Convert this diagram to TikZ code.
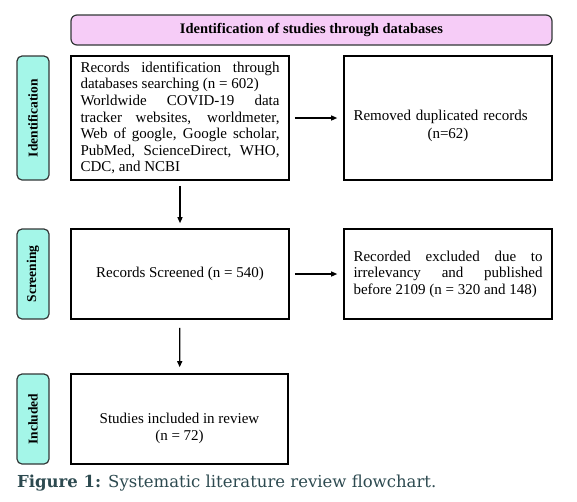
\documentclass[tikz,border=0pt]{standalone}
\usepackage{fontspec}
\setmainfont{Liberation Serif}
\newfontfamily\captionfont{DejaVu Serif}
\usetikzlibrary{arrows.meta}
\definecolor{Header}{RGB}{246, 204, 247}
\definecolor{Phase}{RGB}{164, 246, 232}
\definecolor{Caption}{RGB}{45, 74, 80}
\definecolor{Edge}{RGB}{50, 55, 55}

\tikzset{
    stagebox/.style={draw, line width=1.6pt, minimum width=218pt, inner sep=0pt,
        font=\fontsize{15}{16.6}\selectfont},
    phasebox/.style={draw=Edge, fill=Phase, line width=1.2pt, rounded corners=5pt,
        rotate=90, minimum height=32pt, inner sep=0pt, font=\bfseries\fontsize{13.5}{15}\selectfont},
    flowarrow/.style={line width=1.2pt, -{Triangle[length=6pt, width=5pt]}}
}

\begin{document}
\begin{tikzpicture}[x=1pt, y=-1pt]
    \useasboundingbox (0,0) rectangle (577,501);

    % Header
    \node[draw=Edge, fill=Header, line width=1.2pt, rounded corners=6pt,
        minimum width=481pt, minimum height=30pt, font=\bfseries\fontsize{14.5}{16}\selectfont]
        (header) at (311.5,30) {Identification of studies through databases};

    % Phase labels
    \node[phasebox, minimum width=124pt] (phaseId) at (33,118) {Identification};
    \node[phasebox, minimum width=90pt] (phaseScreen) at (33,274) {Screening};
    \node[phasebox, minimum width=90pt] (phaseIncl) at (33,419) {Included};

    % Left column
    \node[stagebox, minimum height=124pt, text width=199pt, align=justify,
        execute at begin node={\parindent=0pt}] (recId) at (180,118)
        {Records identification through\linebreak databases searching (n = 602)\par
         Worldwide COVID-19 data\linebreak tracker websites, worldmeter,\linebreak
         Web of google, Google scholar,\linebreak PubMed, ScienceDirect, WHO,\linebreak
         CDC, and NCBI};
    \node[stagebox, minimum height=90pt] (screen) at (180,274) {Records Screened (n = 540)};
    \node[stagebox, minimum width=217pt, minimum height=90pt] (incl) at (179.5,419) {};
    \node[align=center, font=\fontsize{15}{17}\selectfont] (inclText) at (179.5,428)
        {Studies included in review\\(n = 72)};

    % Right column
    \node[stagebox, minimum width=208pt, minimum height=124pt] (dup) at (448,118) {};
    \node[align=center, text width=189pt, font=\fontsize{15}{18}\selectfont] (dupText) at (448,126)
        {\makebox[189pt][l]{Removed duplicated records}\\(n=62)};
    \node[stagebox, minimum width=208pt, minimum height=90pt, text width=189pt, align=justify,
        execute at begin node={\parindent=0pt}] (excl) at (448,274)
        {Recorded excluded due to\linebreak irrelevancy and published\linebreak
         \mbox{before 2109 (n = 320 and 148)}};

    % Connectors
    \draw[flowarrow, shorten <=5pt, shorten >=6pt] (recId) -- (dup);
    \draw[flowarrow, shorten <=5pt, shorten >=6pt] (screen) -- (excl);
    \draw[flowarrow, shorten <=5pt, shorten >=5pt] (recId) -- (screen);
    \draw[flowarrow, shorten <=8pt, shorten >=6pt] (screen) -- (incl);

    % Caption
    \node[anchor=base west, inner sep=0pt, text=Caption, font=\captionfont\fontsize{16.5}{20}\selectfont]
        (caption) at (17,487) {\textbf{Figure 1:} Systematic literature review flowchart.};
\end{tikzpicture}
\end{document}
